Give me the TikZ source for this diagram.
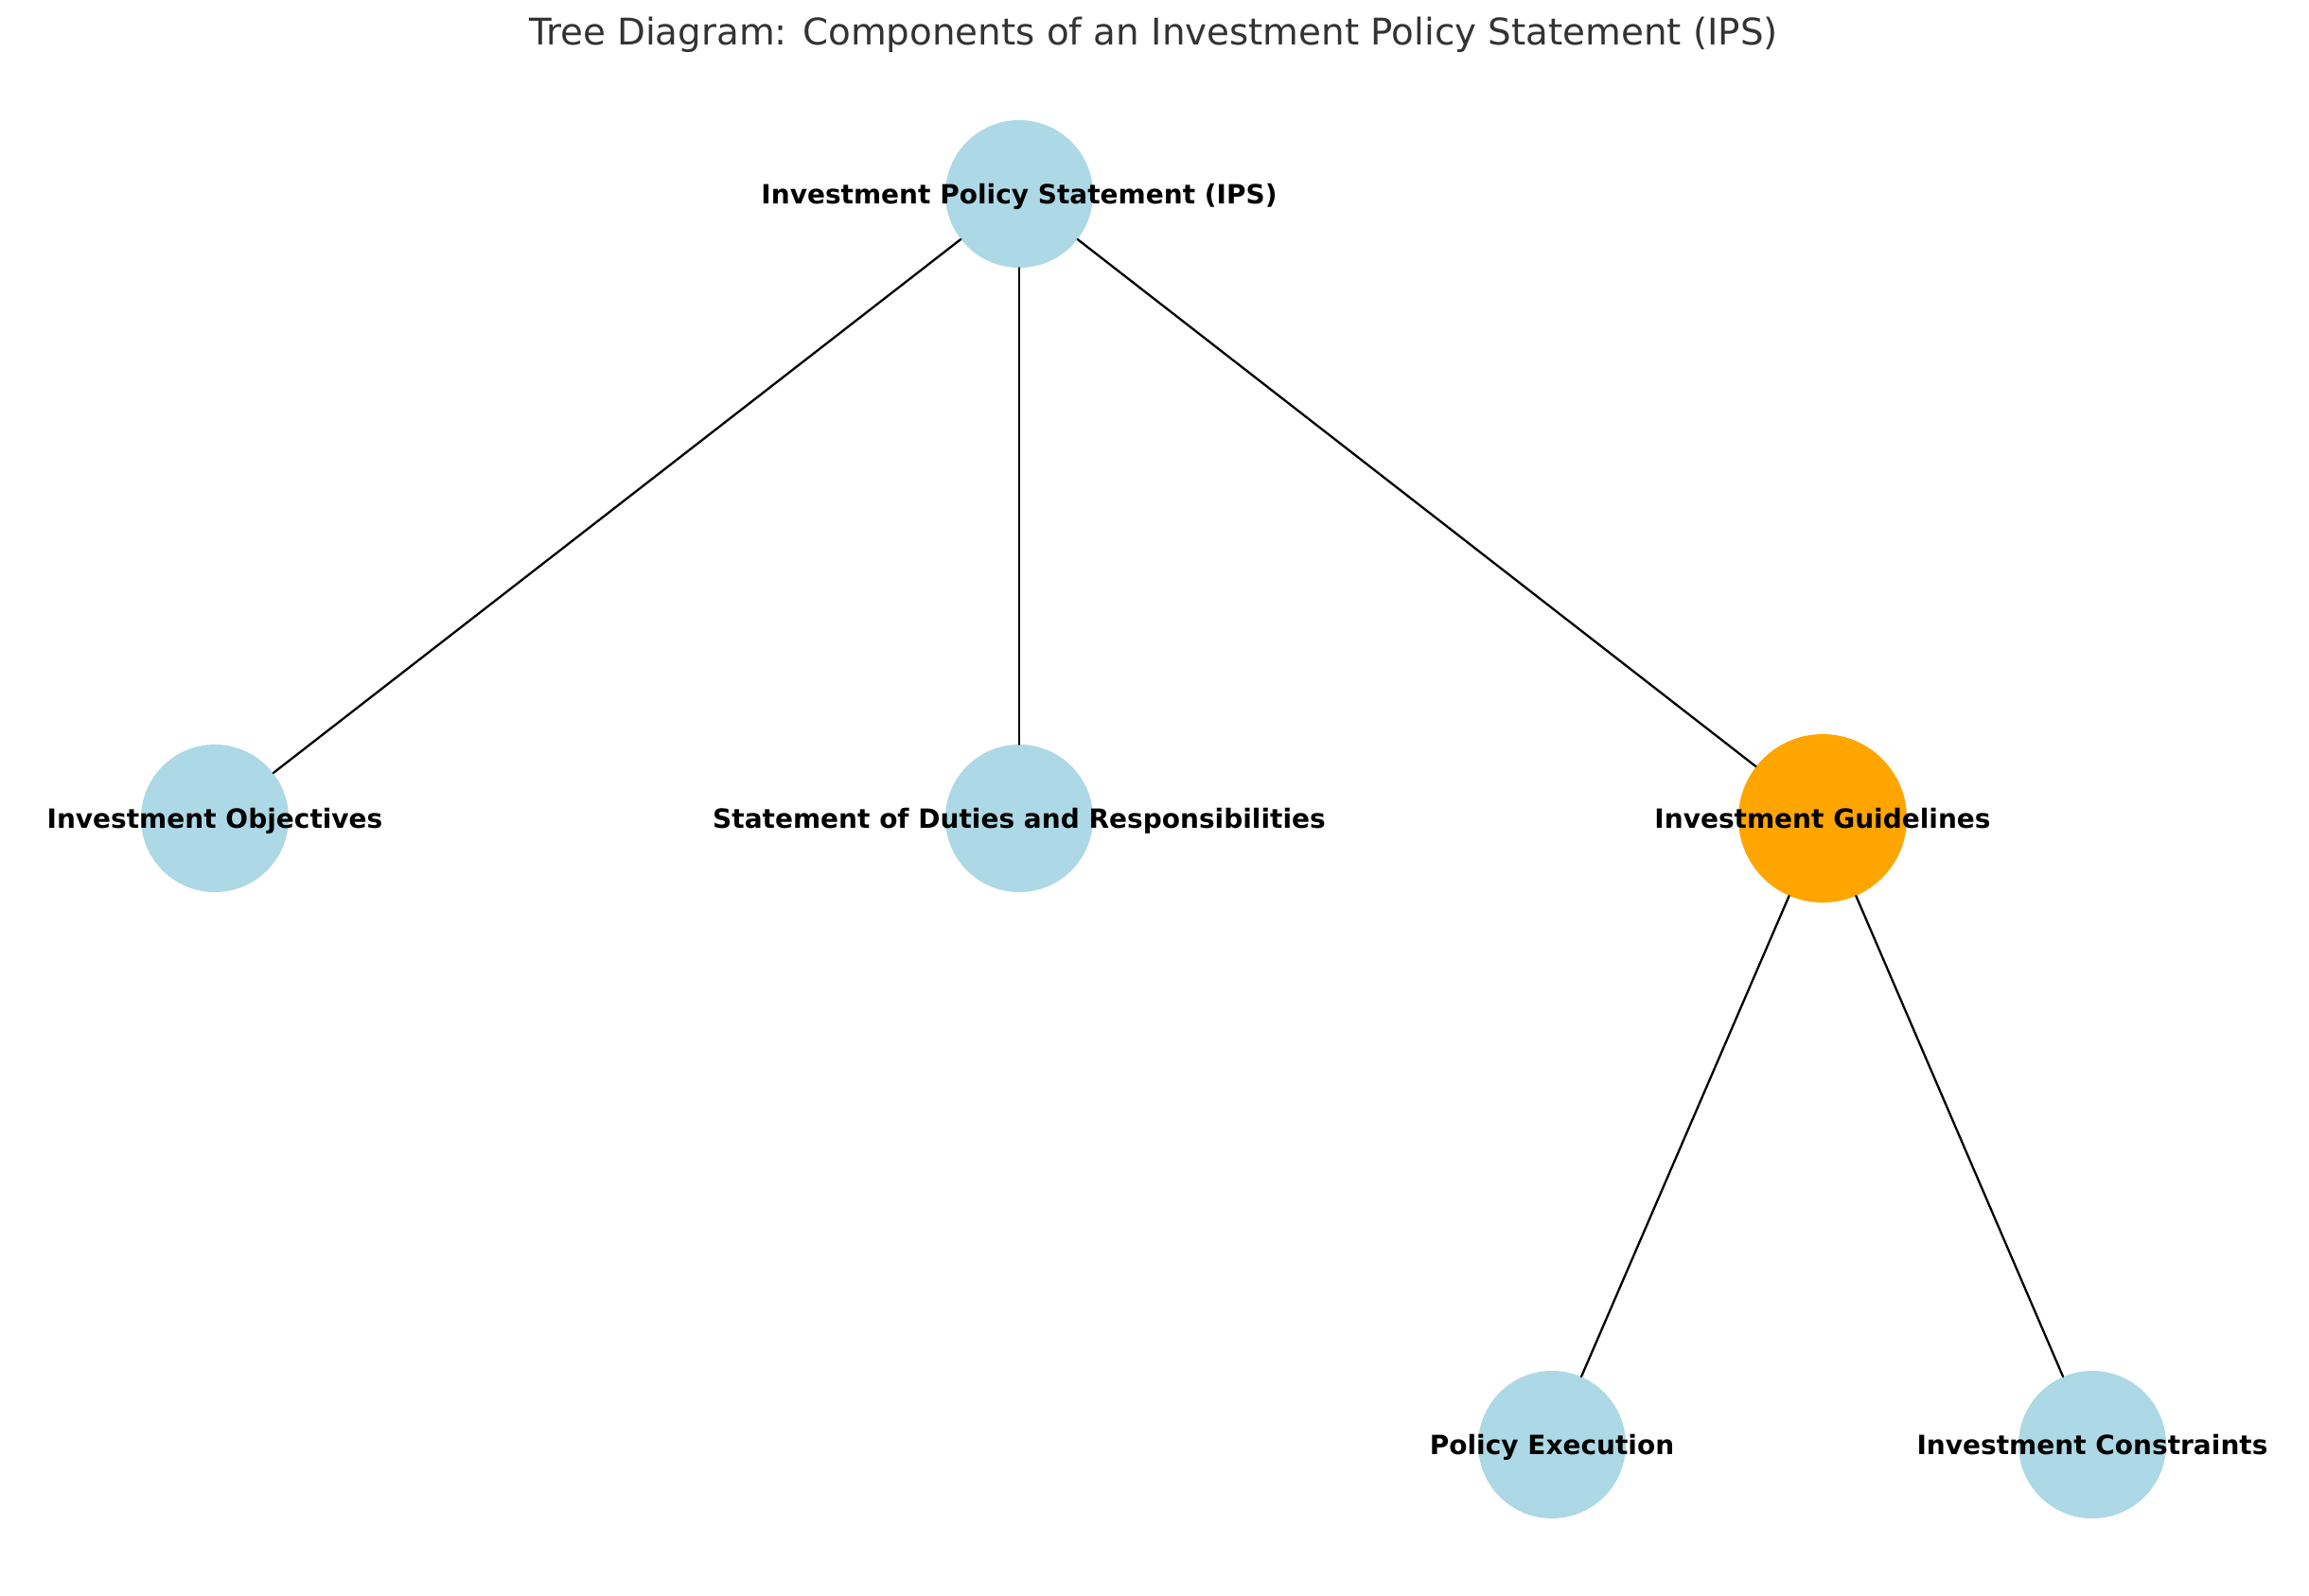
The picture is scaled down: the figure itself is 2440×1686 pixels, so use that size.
\documentclass[tikz,border=0pt]{standalone}
\usepackage{fontspec}
\setmainfont{DejaVu Sans}
\definecolor{nodeblue}{HTML}{ADD8E6}
\definecolor{nodeorange}{HTML}{FFA500}
\definecolor{titlegray}{HTML}{333333}

\begin{document}
\begin{tikzpicture}[x=1pt,y=-1pt,line cap=round,line join=round,
  leaf/.style={circle,fill=nodeblue,minimum size=156pt,inner sep=0pt},
  hub/.style={circle,fill=nodeorange,minimum size=178pt,inner sep=0pt},
  lbl/.style={font=\fontsize{28}{32}\selectfont\bfseries,inner sep=0pt,text height=21pt,text depth=0pt},
  edge/.style={line width=2.3pt,black}]
  \useasboundingbox (0,0) rectangle (2440,1686);
  \def\ya{205}
  \def\yb{865}
  \def\yc{1527}
  % nodes
  \node[leaf] (ips) at (1077,\ya) {};
  \node[leaf] (obj) at (227,\yb) {};
  \node[leaf] (duty) at (1077,\yb) {};
  \node[hub] (guide) at (1926,\yb) {};
  \node[leaf] (exec) at (1640,\yc) {};
  \node[leaf] (cons) at (2211,\yc) {};
  % edges
  \draw[edge] (ips) -- (obj);
  \draw[edge] (ips) -- (duty);
  \draw[edge] (ips) -- (guide);
  \draw[edge] (guide) -- (exec);
  \draw[edge] (guide) -- (cons);
  % labels
  \node[lbl] at (ips) {Investment Policy Statement (IPS)};
  \node[lbl] at (obj) {Investment Objectives};
  \node[lbl] at (duty) {Statement of Duties and Responsibilities};
  \node[lbl] at (guide) {Investment Guidelines};
  \node[lbl] at (exec) {Policy Execution};
  \node[lbl] at (cons) {Investment Constraints};
  \node[font=\fontsize{38.8}{44}\selectfont,text=titlegray,inner sep=0pt] (title) at (1219,37) {Tree Diagram: Components of an Investment Policy Statement (IPS)};
\end{tikzpicture}
\end{document}
